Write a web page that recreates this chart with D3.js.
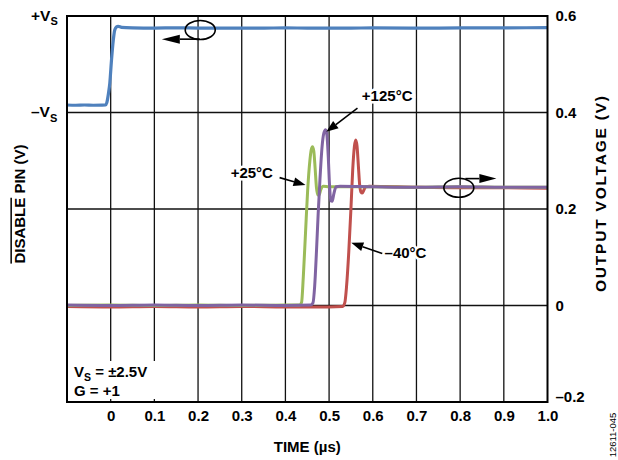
<!DOCTYPE html>
<html>
<head>
<meta charset="utf-8">
<script src="https://cdn.jsdelivr.net/npm/d3@7"></script>
<style>
body { margin: 0; background: #fff; }
text { font-family: "Liberation Sans", Arial, sans-serif; font-weight: bold; fill: #000; }
</style>
</head>
<body>
<script>
'use strict';

// axis ticks
var timeTicks = [0, 0.1, 0.2, 0.3, 0.4, 0.5, 0.6, 0.7, 0.8, 0.9, 1.0];
var timeLabels = ['0', '0.1', '0.2', '0.3', '0.4', '0.5', '0.6', '0.7', '0.8', '0.9', '1.0'];
var voltTicks = [-0.2, 0, 0.2, 0.4, 0.6];
var voltLabels = ['\u20130.2', '0', '0.2', '0.4', '0.6'];

// DISABLE pin, in units of Vs (-1 = -Vs, +1 = +Vs)
var disableTime = [-0.1, -0.08, -0.06, -0.04, -0.02, -0.012, -0.009, -0.005, -0.002, 0.002, 0.006, 0.009, 0.013, 0.017, 0.025, 0.05, 0.1, 0.15, 0.2, 0.3, 0.4, 0.5, 0.6, 0.7, 0.8, 0.9, 1.0];
var disableLevel = [-0.845, -0.85, -0.845, -0.85, -0.848, -0.845, -0.8, -0.6, -0.39, 0.1, 0.5, 0.7, 0.77, 0.785, 0.765, 0.755, 0.75, 0.755, 0.75, 0.748, 0.752, 0.748, 0.752, 0.75, 0.752, 0.755, 0.758];

// output voltage, +25C
var t25Time = [-0.1, 0.0, 0.1, 0.2, 0.3, 0.4, 0.433, 0.437, 0.441, 0.446, 0.451, 0.456, 0.459, 0.462, 0.465, 0.468, 0.471, 0.474, 0.477, 0.481, 0.487, 0.5, 0.6, 0.7, 0.8, 0.9, 1.0];
var t25Volt = [0.0, 0.001, 0.0, 0.001, 0.0, 0.001, 0.001, 0.006, 0.06, 0.15, 0.24, 0.30, 0.322, 0.329, 0.32, 0.285, 0.245, 0.229, 0.229, 0.24, 0.247, 0.246, 0.246, 0.245, 0.246, 0.245, 0.245];

// output voltage, +125C
var t125Time = [-0.1, 0.0, 0.1, 0.2, 0.3, 0.4, 0.458, 0.463, 0.467, 0.471, 0.475, 0.479, 0.484, 0.488, 0.492, 0.495, 0.498, 0.501, 0.504, 0.507, 0.511, 0.516, 0.525, 0.6, 0.7, 0.8, 0.9, 1.0];
var t125Volt = [0.001, 0.0, 0.001, 0.0, 0.001, 0.0, 0.001, 0.005, 0.04, 0.11, 0.19, 0.26, 0.33, 0.357, 0.364, 0.354, 0.31, 0.25, 0.217, 0.216, 0.232, 0.246, 0.247, 0.246, 0.245, 0.246, 0.245, 0.245];

// output voltage, -40C
var tm40Time = [-0.1, 0.0, 0.1, 0.2, 0.3, 0.4, 0.5, 0.531, 0.536, 0.540, 0.545, 0.550, 0.554, 0.558, 0.561, 0.564, 0.567, 0.570, 0.573, 0.576, 0.579, 0.584, 0.592, 0.7, 0.8, 0.9, 1.0];
var tm40Volt = [-0.002, -0.003, -0.002, -0.003, -0.002, -0.003, -0.003, -0.002, 0.006, 0.04, 0.11, 0.2, 0.28, 0.33, 0.343, 0.33, 0.29, 0.25, 0.235, 0.233, 0.238, 0.246, 0.247, 0.245, 0.244, 0.244, 0.243];

var width = 618;
var height = 460;
var margin = {top: 16, right: 70, bottom: 58, left: 67};

var svg = d3.select('body').append('svg')
  .attr('width', width)
  .attr('height', height);

var x = d3.scaleLinear().domain([-0.1, 1.0]).range([margin.left, width - margin.right - 0.5]);
var y = d3.scaleLinear().domain([-0.2, 0.6]).range([height - margin.bottom, margin.top]);
//left axis is only -Vs/+Vs, sits on the 0.4 and 0.6 grid lines
var yL = d3.scaleLinear().domain([-1, 1]).range([y(0.4), y(0.6)]);

var x0 = x.range()[0], x1 = x.range()[1];
var y0 = y.range()[1], y1 = y.range()[0];

// grid
var grid = svg.append('g').attr('stroke', '#111').attr('stroke-width', 1.3);
grid.selectAll('line.v')
  .data(timeTicks.filter(function(d) { return d < 1.0; }))
  .enter().append('line')
  .attr('class', 'v')
  .attr('x1', function(d) { return x(d); })
  .attr('x2', function(d) { return x(d); })
  .attr('y1', y0)
  .attr('y2', y1);
grid.selectAll('line.h')
  .data(voltTicks.filter(function(d) { return d > -0.2 && d < 0.6; }))
  .enter().append('line')
  .attr('class', 'h')
  .attr('x1', x0)
  .attr('x2', x1)
  .attr('y1', function(d) { return y(d); })
  .attr('y2', function(d) { return y(d); });

// axes labels
var xAxis = svg.append('g')
  .attr('transform', 'translate(0,' + y1 + ')')
  .call(d3.axisBottom(x).tickValues(timeTicks).tickSize(0).tickPadding(8.5)
    .tickFormat(function(d, i) { return timeLabels[i]; }));
var yAxis = svg.append('g')
  .attr('transform', 'translate(' + x1 + ',0)')
  .call(d3.axisRight(y).tickValues(voltTicks).tickSize(0).tickPadding(8)
    .tickFormat(function(d, i) { return voltLabels[i]; }));
[xAxis, yAxis].forEach(function(a) {
  a.select('.domain').remove();
  a.selectAll('text').attr('font-size', 15).attr('font-family', null).attr('fill', '#000');
});
yAxis.selectAll('text').filter(function(d) { return d === -0.2; }).attr('dy', '-0.05em');

// +Vs / -Vs
var vsLabels = [{lv: 1, sign: '+'}, {lv: -1, sign: '\u2013'}];
vsLabels.forEach(function(d) {
  var t = svg.append('text')
    .attr('x', 31)
    .attr('y', yL(d.lv) + 4.7)
    .attr('font-size', 15.5);
  t.append('tspan').text(d.sign + 'V');
  t.append('tspan').attr('font-size', 11).attr('dy', 4.5).text('S');
});

// traces
var outLine = d3.line()
  .x(function(d) { return x(d[0]); })
  .y(function(d) { return y(d[1]); })
  .curve(d3.curveMonotoneX);
var disLine = d3.line()
  .x(function(d) { return x(d[0]); })
  .y(function(d) { return yL(d[1]); })
  .curve(d3.curveMonotoneX);

var traces = [
  {t: tm40Time, v: tm40Volt, color: '#c0504d'},
  {t: t25Time, v: t25Volt, color: '#9bbb59'},
  {t: t125Time, v: t125Volt, color: '#8064a2'}
];
traces.forEach(function(s) {
  svg.append('path')
    .datum(d3.zip(s.t, s.v))
    .attr('d', outLine)
    .attr('fill', 'none')
    .attr('stroke', s.color)
    .attr('stroke-width', 3)
    .attr('stroke-linejoin', 'round');
});
svg.append('path')
  .datum(d3.zip(disableTime, disableLevel))
  .attr('d', disLine)
  .attr('fill', 'none')
  .attr('stroke', '#4f81bd')
  .attr('stroke-width', 3.2)
  .attr('stroke-linejoin', 'round');

// frame
svg.append('rect')
  .attr('x', x0).attr('y', y0)
  .attr('width', x1 - x0).attr('height', y1 - y0)
  .attr('fill', 'none')
  .attr('stroke', '#000')
  .attr('stroke-width', 2);

// arrows
function arrow(ax, ay, bx, by, len, wid) {
  var X1 = x(ax), Y1 = y(ay), X2 = x(bx), Y2 = y(by);
  var ang = Math.atan2(Y2 - Y1, X2 - X1);
  var cx = X2 - len * Math.cos(ang), cy = Y2 - len * Math.sin(ang);
  var px = -Math.sin(ang) * wid / 2, py = Math.cos(ang) * wid / 2;
  svg.append('line')
    .attr('x1', X1).attr('y1', Y1).attr('x2', cx).attr('y2', cy)
    .attr('stroke', '#000').attr('stroke-width', 1.6);
  svg.append('path')
    .attr('d', 'M' + X2 + ',' + Y2 + 'L' + (cx + px) + ',' + (cy + py) + 'L' + (cx - px) + ',' + (cy - py) + 'Z')
    .attr('fill', '#000');
}

function ellipse(t, v) {
  svg.append('ellipse')
    .attr('cx', x(t)).attr('cy', y(v))
    .attr('rx', 15).attr('ry', 9.5)
    .attr('fill', 'none')
    .attr('stroke', '#000')
    .attr('stroke-width', 1.6);
}

ellipse(0.205, 0.571);
arrow(0.204, 0.552, 0.117, 0.552, 18, 9);
ellipse(0.797, 0.244);
arrow(0.812, 0.263, 0.883, 0.263, 17, 9);

function note(t, v, label, anchor) {
  svg.append('text')
    .attr('x', x(t)).attr('y', y(v))
    .attr('text-anchor', anchor)
    .attr('font-size', 15)
    .attr('stroke', '#fff')
    .attr('stroke-width', 5)
    .attr('paint-order', 'stroke')
    .text(label);
}
note(0.575, 0.4245, '+125\u00b0C', 'start');
arrow(0.565, 0.409, 0.4936, 0.360, 12, 9);
note(0.3714, 0.264, '+25\u00b0C', 'end');
arrow(0.3867, 0.265, 0.446, 0.2497, 12, 9);
note(0.627, 0.0978, '\u201340\u00b0C', 'start');
arrow(0.6217, 0.108, 0.5508, 0.130, 12, 9);

// conditions box
svg.append('rect')
  .attr('x', 69).attr('y', 361)
  .attr('width', 90).attr('height', 38)
  .attr('fill', '#fff');
var cond = svg.append('text').attr('x', 74).attr('y', 377).attr('font-size', 15);
cond.append('tspan').text('V');
cond.append('tspan').attr('font-size', 10.5).attr('dy', 3.5).text('S');
cond.append('tspan').attr('dy', -3.5).text(' = \u00b12.5V');
svg.append('text').attr('x', 74).attr('y', 395.5).attr('font-size', 15).text('G = +1');

// axis titles
svg.append('text')
  .attr('x', x(0.45)).attr('y', 452)
  .attr('text-anchor', 'middle')
  .attr('font-size', 15)
  .text('TIME (\u00b5s)');

var lt = svg.append('text')
  .attr('transform', 'translate(20,204)rotate(-90)')
  .attr('text-anchor', 'middle')
  .attr('dy', '0.36em')
  .attr('font-size', 15);
lt.append('tspan').attr('text-decoration', 'overline').text('DISABLE');
lt.append('tspan').text(' PIN (V)');

svg.append('text')
  .attr('transform', 'translate(600,194)rotate(-90)')
  .attr('text-anchor', 'middle')
  .attr('dy', '0.36em')
  .attr('font-size', 15.5)
  .attr('textLength', 196)
  .attr('lengthAdjust', 'spacing')
  .text('OUTPUT VOLTAGE (V)');

svg.append('text')
  .attr('transform', 'translate(612.5,435)rotate(-90)')
  .attr('text-anchor', 'middle')
  .attr('dy', '0.35em')
  .attr('font-size', 9.5)
  .style('font-weight', 'normal')
  .text('12611-045');
</script>
</body>
</html>
